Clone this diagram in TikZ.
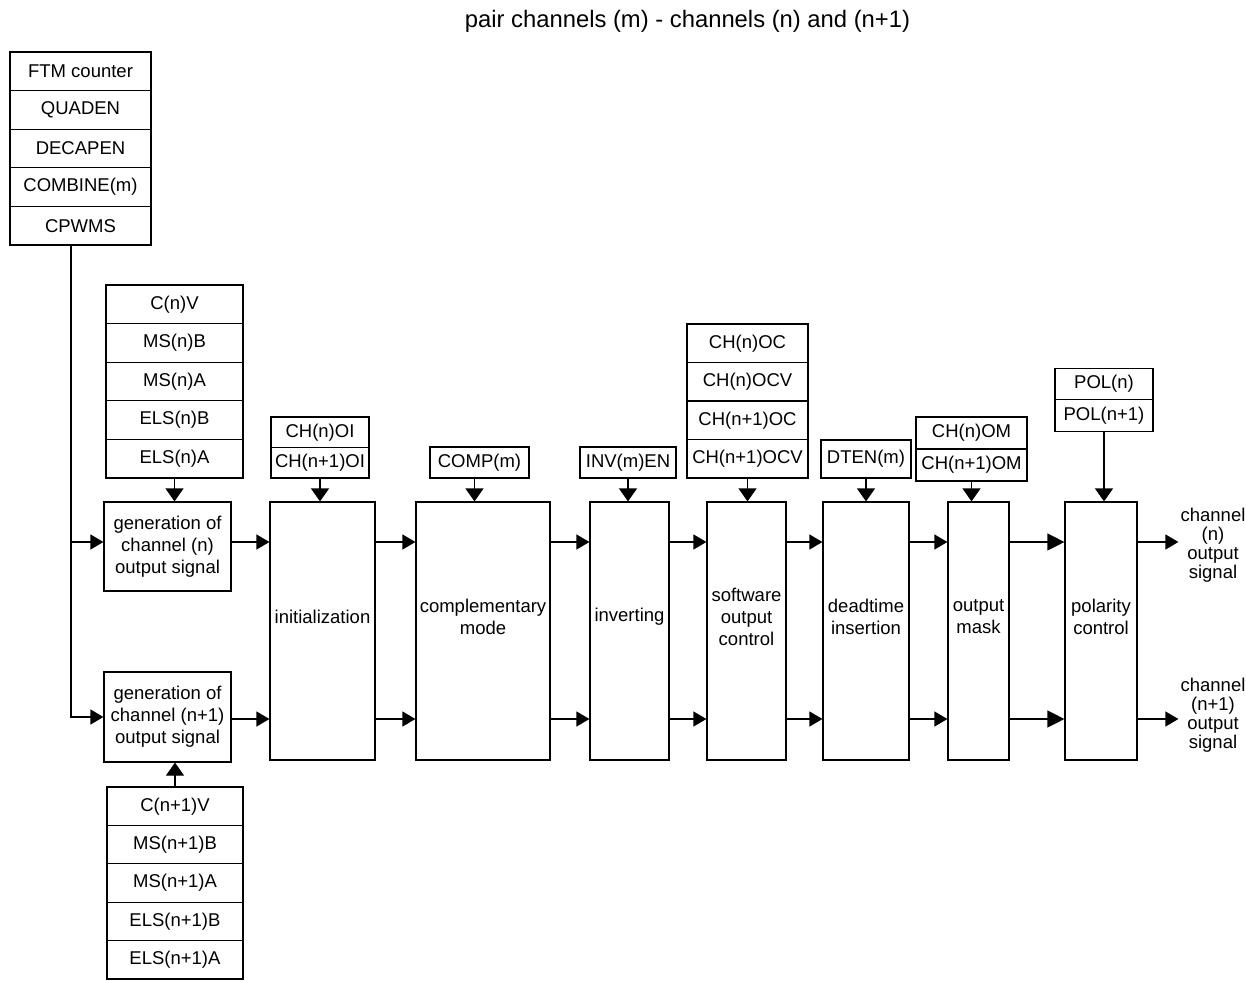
\documentclass[tikz,border=0pt]{standalone}
\usepackage{fontspec}
\setmainfont{Liberation Sans}
\usetikzlibrary{arrows.meta}
\begin{document}
\begin{tikzpicture}[x=1pt,y=-1pt,
  every node/.style={font=\fontsize{18.5}{22}\selectfont},
  box/.style={draw, line width=1.2pt, inner sep=0pt, align=center},
  cell/.style n args={2}{box, minimum width=#1, minimum height=#2},
  bigbox/.style={box, minimum width=#1, minimum height=258pt},
  arr/.style={line width=1.2pt, -{Triangle[length=13pt,width=15pt]}},
  bigarr/.style={line width=1.2pt, -{Triangle[length=17pt,width=17pt]}},
  varr/.style={line width=1.2pt, -{Triangle[length=13pt,width=18pt]}},
  outlbl/.style={align=center, inner sep=2pt, font=\fontsize{18.5}{19}\selectfont},
  boxtext/.style={align=center, yshift=14pt}
]
\useasboundingbox (0,0) rectangle (1246,980);

% title
\node[font=\fontsize{23.8}{26}\selectfont] (title) at (687.5,21) {pair channels (m) - channels (n) and (n+1)};

% row reference coordinates
\coordinate (rowA) at (0,542);
\coordinate (rowB) at (0,719);

% top-left stack
\node[cell={141pt}{38.6pt}] (ftm) at (80.5,71.3) {FTM counter};
\node[cell={141pt}{38.6pt}] (quaden) at (80.5,109.9) {QUADEN};
\node[cell={141pt}{38.6pt}] (decapen) at (80.5,148.5) {DECAPEN};
\node[cell={141pt}{38.6pt}] (combine) at (80.5,187.1) {COMBINE(m)};
\node[cell={141pt}{38.6pt}] (cpwms) at (80.5,225.7) {CPWMS};

% C(n)V stack
\node[cell={137pt}{38.6pt}] (cnv) at (174.5,304.3) {C(n)V};
\node[cell={137pt}{38.6pt}] (msnb) at (174.5,342.9) {MS(n)B};
\node[cell={137pt}{38.6pt}] (msna) at (174.5,381.5) {MS(n)A};
\node[cell={137pt}{38.6pt}] (elsnb) at (174.5,420.1) {ELS(n)B};
\node[cell={137pt}{38.6pt}] (elsna) at (174.5,458.7) {ELS(n)A};

% generation boxes
\node[cell={127pt}{89pt}] (genn) at (167.5,546.5) {generation of\\channel (n)\\output signal};
\node[cell={127pt}{90pt}] (gennp) at (167.5,717) {generation of\\channel (n+1)\\output signal};

% C(n+1)V stack
\node[cell={136pt}{38.4pt}] (cnpv) at (175,806.2) {C(n+1)V};
\node[cell={136pt}{38.4pt}] (msnpb) at (175,844.6) {MS(n+1)B};
\node[cell={136pt}{38.4pt}] (msnpa) at (175,883) {MS(n+1)A};
\node[cell={136pt}{38.4pt}] (elsnpb) at (175,921.4) {ELS(n+1)B};
\node[cell={136pt}{38.4pt}] (elsnpa) at (175,959.8) {ELS(n+1)A};

% big boxes
\node[bigbox=105pt, label={[boxtext]center:initialization}] (init) at (322.5,631) {};
\node[bigbox=134pt, label={[boxtext]center:complementary\\mode}] (comp) at (483,631) {};
\node[bigbox=79pt, label={[boxtext]center:inverting}] (inv) at (629.5,631) {};
\node[bigbox=79pt, label={[boxtext]center:software\\output\\control}] (sw) at (746.5,631) {};
\node[bigbox=86pt, label={[boxtext]center:deadtime\\insertion}] (dead) at (866,631) {};
\node[bigbox=61pt, label={[boxtext]center:output\\mask}] (mask) at (978.5,631) {};
\node[bigbox=72pt, label={[boxtext]center:polarity\\control}] (pol) at (1101,631) {};

% control boxes above
\node[cell={98pt}{30.5pt}] (chnoi) at (320,432.25) {CH(n)OI};
\node[cell={98pt}{30.5pt}] (chnpoi) at (320,462.75) {CH(n+1)OI};
\node[cell={99pt}{31pt}] (compm) at (479.5,462.5) {COMP(m)};
\node[cell={96pt}{31pt}] (invm) at (628,462.5) {INV(m)EN};
\node[cell={121pt}{38.5pt}] (chnoc) at (747.5,343.25) {CH(n)OC};
\node[cell={121pt}{38.5pt}] (chnocv) at (747.5,381.75) {CH(n)OCV};
\node[cell={121pt}{38.5pt}] (chnpoc) at (747.5,420.25) {CH(n+1)OC};
\node[cell={121pt}{38.5pt}] (chnpocv) at (747.5,458.75) {CH(n+1)OCV};
\node[cell={90pt}{38pt}] (dten) at (866,459) {DTEN(m)};
\node[cell={111pt}{32pt}] (chnom) at (971.5,433) {CH(n)OM};
\node[cell={111pt}{32pt}] (chnpom) at (971.5,465) {CH(n+1)OM};
\node[cell={98pt}{31.5pt}] (poln) at (1104,384) {POL(n)};
\node[cell={98pt}{31.5pt}] (polnp) at (1104,415.5) {POL(n+1)};

% output labels
\node[outlbl] (outn) at (1213,545) {channel\\(n)\\output\\signal};
\node[outlbl] (outnp) at (1213,715) {channel\\(n+1)\\output\\signal};

% fork from CPWMS
\coordinate (ftop) at ([xshift=-9.5pt]cpwms.south);
\draw[arr] (ftop) |- (gennp.west);
\draw[arr] (ftop |- rowA) -- (genn.west |- rowA);

% vertical control arrows
\draw[varr] (elsna.south) -- (elsna.south |- genn.north);
\draw[varr] (cnpv.north) -- (cnpv.north |- gennp.south);
\draw[varr] (chnpoi.south) -- (chnpoi.south |- init.north);
\draw[varr] ([xshift=-5pt]compm.south) -- ([xshift=-5pt]compm.south |- comp.north);
\draw[varr] (invm.south) -- (invm.south |- inv.north);
\draw[varr] (chnpocv.south) -- (chnpocv.south |- sw.north);
\draw[varr] (dten.south) -- (dten.south |- dead.north);
\draw[varr] (chnpom.south) -- (chnpom.south |- mask.north);
\draw[varr] (polnp.south) -- (polnp.south |- pol.north);

% signal arrows, row A
\draw[arr] (genn.east |- rowA) -- (init.west |- rowA);
\draw[arr] (init.east |- rowA) -- (comp.west |- rowA);
\draw[arr] (comp.east |- rowA) -- (inv.west |- rowA);
\draw[arr] (inv.east |- rowA) -- (sw.west |- rowA);
\draw[arr] (sw.east |- rowA) -- (dead.west |- rowA);
\draw[arr] (dead.east |- rowA) -- (mask.west |- rowA);
\draw[bigarr] (mask.east |- rowA) -- (pol.west |- rowA);
\draw[arr] (pol.east |- rowA) -- (outn.west |- rowA);

% signal arrows, row B
\draw[arr] (gennp.east |- rowB) -- (init.west |- rowB);
\draw[arr] (init.east |- rowB) -- (comp.west |- rowB);
\draw[arr] (comp.east |- rowB) -- (inv.west |- rowB);
\draw[arr] (inv.east |- rowB) -- (sw.west |- rowB);
\draw[arr] (sw.east |- rowB) -- (dead.west |- rowB);
\draw[arr] (dead.east |- rowB) -- (mask.west |- rowB);
\draw[bigarr] (mask.east |- rowB) -- (pol.west |- rowB);
\draw[arr] (pol.east |- rowB) -- (outnp.west |- rowB);
\end{tikzpicture}
\end{document}
